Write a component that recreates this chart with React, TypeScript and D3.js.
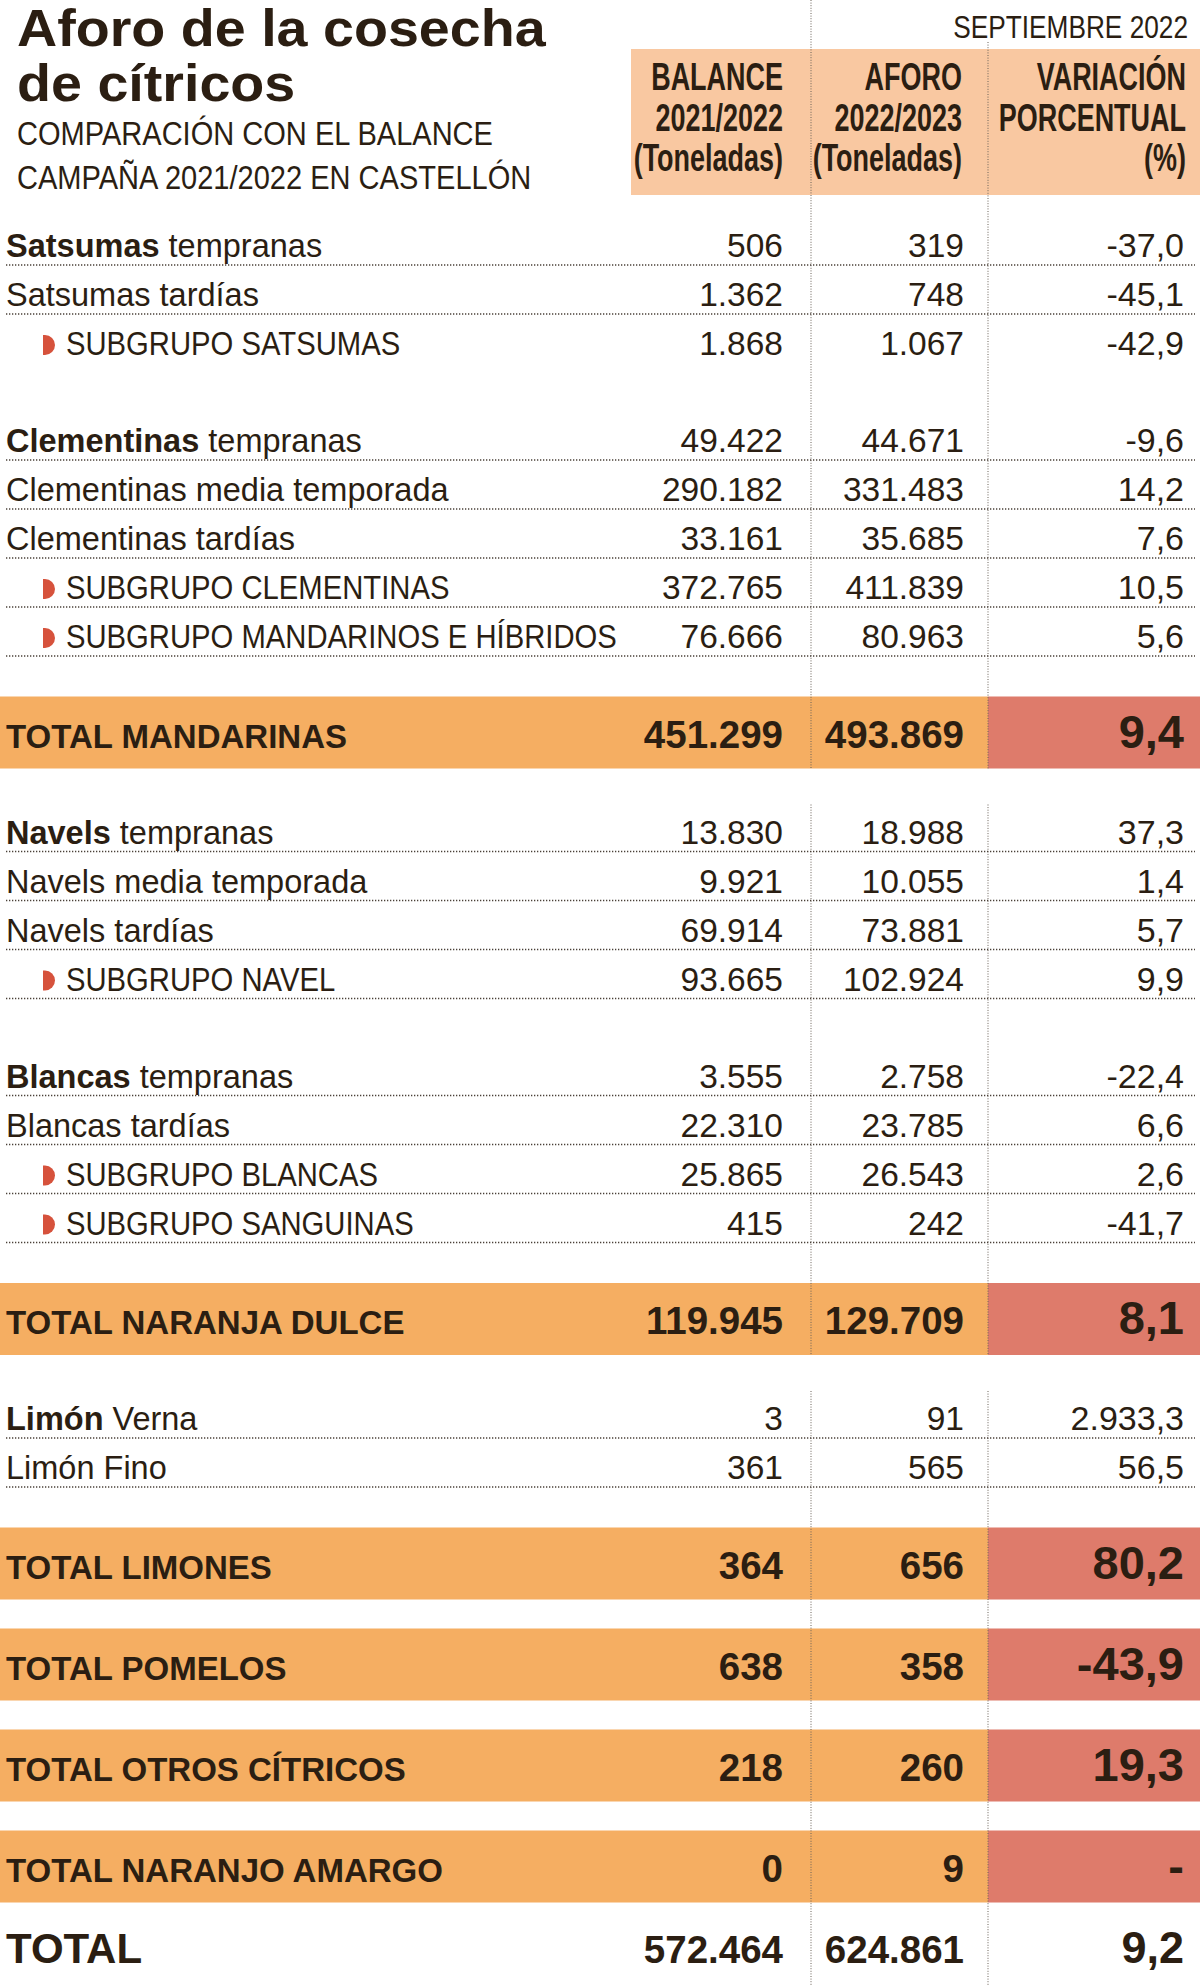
import React from "react";
import * as d3 from "d3";

// ---------- DATA ----------
const TITLE = ["Aforo de la cosecha", "de cítricos"];
const SUBTITLE = ["COMPARACIÓN CON EL BALANCE", "CAMPAÑA 2021/2022 EN CASTELLÓN"];
const DATE_LABEL = "SEPTIEMBRE 2022";
const COLUMN_KEYS = ["balance", "aforo", "variacion"];
const COLUMN_HEADERS = [
  ["BALANCE", "2021/2022", "(Toneladas)"],
  ["AFORO", "2022/2023", "(Toneladas)"],
  ["VARIACIÓN", "PORCENTUAL", "(%)"],
];

const labelBold = [
  "Satsumas", "", "",
  "Clementinas", "", "", "", "",
  "TOTAL MANDARINAS",
  "Navels", "", "", "",
  "Blancas", "", "", "",
  "TOTAL NARANJA DULCE",
  "Limón", "",
  "TOTAL LIMONES", "TOTAL POMELOS", "TOTAL OTROS CÍTRICOS", "TOTAL NARANJO AMARGO",
  "TOTAL",
];
const labelRest = [
  " tempranas", "Satsumas tardías", "SUBGRUPO SATSUMAS",
  " tempranas", "Clementinas media temporada", "Clementinas tardías", "SUBGRUPO CLEMENTINAS", "SUBGRUPO MANDARINOS E HÍBRIDOS",
  "",
  " tempranas", "Navels media temporada", "Navels tardías", "SUBGRUPO NAVEL",
  " tempranas", "Blancas tardías", "SUBGRUPO BLANCAS", "SUBGRUPO SANGUINAS",
  "",
  " Verna", "Limón Fino",
  "", "", "", "",
  "",
];
const rowKinds = [
  "row", "row", "sub",
  "row", "row", "row", "sub", "sub",
  "band",
  "row", "row", "row", "sub",
  "row", "row", "sub", "sub",
  "band",
  "row", "row",
  "band", "band", "band", "band",
  "total",
];
const balance = [
  506, 1362, 1868,
  49422, 290182, 33161, 372765, 76666,
  451299,
  13830, 9921, 69914, 93665,
  3555, 22310, 25865, 415,
  119945,
  3, 361,
  364, 638, 218, 0,
  572464,
];
const aforo = [
  319, 748, 1067,
  44671, 331483, 35685, 411839, 80963,
  493869,
  18988, 10055, 73881, 102924,
  2758, 23785, 26543, 242,
  129709,
  91, 565,
  656, 358, 260, 9,
  624861,
];
const variacion: (number | null)[] = [
  -37.0, -45.1, -42.9,
  -9.6, 14.2, 7.6, 10.5, 5.6,
  9.4,
  37.3, 1.4, 5.7, 9.9,
  -22.4, 6.6, 2.6, -41.7,
  8.1,
  2933.3, 56.5,
  80.2, -43.9, 19.3, null,
  9.2,
];
const rowsWithoutRule = [2];

// ---------- STYLE ----------
const W = 1200;
const H = 1986;
const INK = "#2b1e12";
const PEACH = "#f9c8a1";
const ORANGE = "#f5ae62";
const SALMON = "#de7b6b";
const BULLET = "#d6523c";
const RULE = "#4a4038";
const FONT = "'Liberation Sans', Arial, Helvetica, sans-serif";

const es = d3.formatLocale({
  decimal: ",",
  thousands: ".",
  grouping: [3],
  currency: ["", "€"],
  minus: "-",
});
const fmtInt = es.format(",d");
const fmtPct = es.format(",.1f");

const colRight = d3.scaleOrdinal<string, number>().domain(COLUMN_KEYS).range([783, 964, 1184]);
const dividerX = [811, 988];

function T(props: any) {
  const { x, y, size, weight = 400, sx = 1, anchor = "start", fill = INK, children } = props;
  return (
    <text
      transform={`translate(${x},${y}) scale(${sx},1)`}
      fontSize={size}
      fontWeight={weight}
      textAnchor={anchor}
      fill={fill}
      fontFamily={FONT}
    >
      {children}
    </text>
  );
}

type Item = { i: number; kind: string; line?: number; top?: number; bottom?: number; base: number };

function layout(): Item[] {
  const items: Item[] = [];
  let prevLine = 0;
  let prevBandBottom = 0;
  rowKinds.forEach((kind, i) => {
    const prevKind = i > 0 ? rowKinds[i - 1] : "";
    if (kind === "row" || kind === "sub") {
      let line: number;
      if (i === 0) line = 265;
      else if (prevKind === "band") line = prevBandBottom + 83;
      else if (labelBold[i] && kind === "row") line = prevLine + 97;
      else line = prevLine + 49;
      prevLine = line;
      items.push({ i, kind, line, base: line - 8 });
    } else if (kind === "band") {
      const top = prevKind === "band" ? prevBandBottom + 29 : prevLine + 40.5;
      const bottom = top + 72;
      prevBandBottom = bottom;
      items.push({ i, kind, top, bottom, base: top + 51 });
    } else {
      items.push({ i, kind, base: prevBandBottom + 60 });
    }
  });
  return items;
}

export default function App() {
  const items = layout();

  // divider segments (interrupted after bands followed by plain rows)
  const segs: [number, number][] = [];
  let segStart = 0;
  items.forEach((it, k) => {
    if (it.kind === "band") {
      const next = items[k + 1];
      if (next && (next.kind === "row" || next.kind === "sub")) {
        segs.push([segStart, it.bottom!]);
        segStart = next.line! - 47;
      }
    }
  });
  segs.push([segStart, H]);

  return (
    <svg
      width={W}
      height={H}
      viewBox={`0 0 ${W} ${H}`}
      style={{ position: "absolute", left: 0, top: 0, background: "#fff" }}
    >
      <rect x={0} y={0} width={W} height={H} fill="#fff" />

      {/* Title */}
      <T x={17} y={46} size={52} weight={700} sx={1.07}>{TITLE[0]}</T>
      <T x={17} y={101} size={52} weight={700} sx={1.07}>{TITLE[1]}</T>
      <T x={17} y={145} size={33} sx={0.88}>{SUBTITLE[0]}</T>
      <T x={17} y={189} size={33} sx={0.88}>{SUBTITLE[1]}</T>
      <T x={1188} y={38} size={32} sx={0.82} anchor="end">{DATE_LABEL}</T>

      {/* Header band */}
      <rect x={631} y={49} width={W - 631} height={146} fill={PEACH} />
      {COLUMN_HEADERS.map((lines, c) =>
        lines.map((t, r) => (
          <T
            key={`h${c}${r}`}
            x={c === 2 ? colRight(COLUMN_KEYS[c]) + 2 : colRight(COLUMN_KEYS[c]) - (c === 1 ? 2 : 0)}
            y={90 + r * 40.5}
            size={38}
            weight={700}
            sx={0.71}
            anchor="end"
          >
            {t}
          </T>
        ))
      )}

      {/* Bands */}
      {items
        .filter((it) => it.kind === "band")
        .map((it) => (
          <g key={`b${it.i}`}>
            <rect x={0} y={it.top} width={dividerX[1]} height={72} fill={ORANGE} />
            <rect x={dividerX[1]} y={it.top} width={W - dividerX[1]} height={72} fill={SALMON} />
          </g>
        ))}

      {/* Vertical dividers */}
      {dividerX.map((x, c) =>
        segs.map(([a, b], s) => (
          <line
            key={`d${c}${s}`}
            x1={x}
            x2={x}
            y1={s === 0 && c === 1 ? 42 : a}
            y2={b}
            stroke="#6b6259"
            strokeWidth={1}
            strokeDasharray="1,1.6"
          />
        ))
      )}

      {/* Rows */}
      {items.map((it) => {
        const i = it.i;
        const vals = [balance[i], aforo[i]];
        const v = variacion[i];
        if (it.kind === "row" || it.kind === "sub") {
          const isSub = it.kind === "sub";
          return (
            <g key={`r${i}`}>
              {!rowsWithoutRule.includes(i) && (
                <line
                  x1={6}
                  x2={1195}
                  y1={it.line}
                  y2={it.line}
                  stroke={RULE}
                  strokeWidth={1.3}
                  strokeDasharray="1.3,1.7"
                />
              )}
              {isSub && (
                <path
                  d={`M43,${it.base - 20} h2 a10,10 0 0 1 0,20 h-2 z`}
                  fill={BULLET}
                />
              )}
              <T x={isSub ? 66 : 6} y={it.base} size={32.5} sx={isSub ? 0.9 : 1}>
                {labelBold[i] ? <tspan fontWeight={700}>{labelBold[i]}</tspan> : null}
                {labelRest[i]}
              </T>
              {vals.map((n, c) => (
                <T key={c} x={colRight(COLUMN_KEYS[c])} y={it.base} size={33.5} anchor="end">
                  {fmtInt(n)}
                </T>
              ))}
              <T x={colRight("variacion")} y={it.base} size={34} anchor="end">
                {v === null ? "-" : fmtPct(v)}
              </T>
            </g>
          );
        }
        const isTotal = it.kind === "total";
        return (
          <g key={`r${i}`}>
            <T x={6} y={it.base} size={isTotal ? 42 : 33} weight={700}>
              {labelBold[i]}
            </T>
            {vals.map((n, c) => (
              <T key={c} x={colRight(COLUMN_KEYS[c])} y={it.base} size={38.5} weight={700} anchor="end">
                {fmtInt(n)}
              </T>
            ))}
            <T x={colRight("variacion")} y={it.base} size={isTotal ? 45 : 47} weight={700} anchor="end">
              {v === null ? "-" : fmtPct(v)}
            </T>
          </g>
        );
      })}
    </svg>
  );
}
